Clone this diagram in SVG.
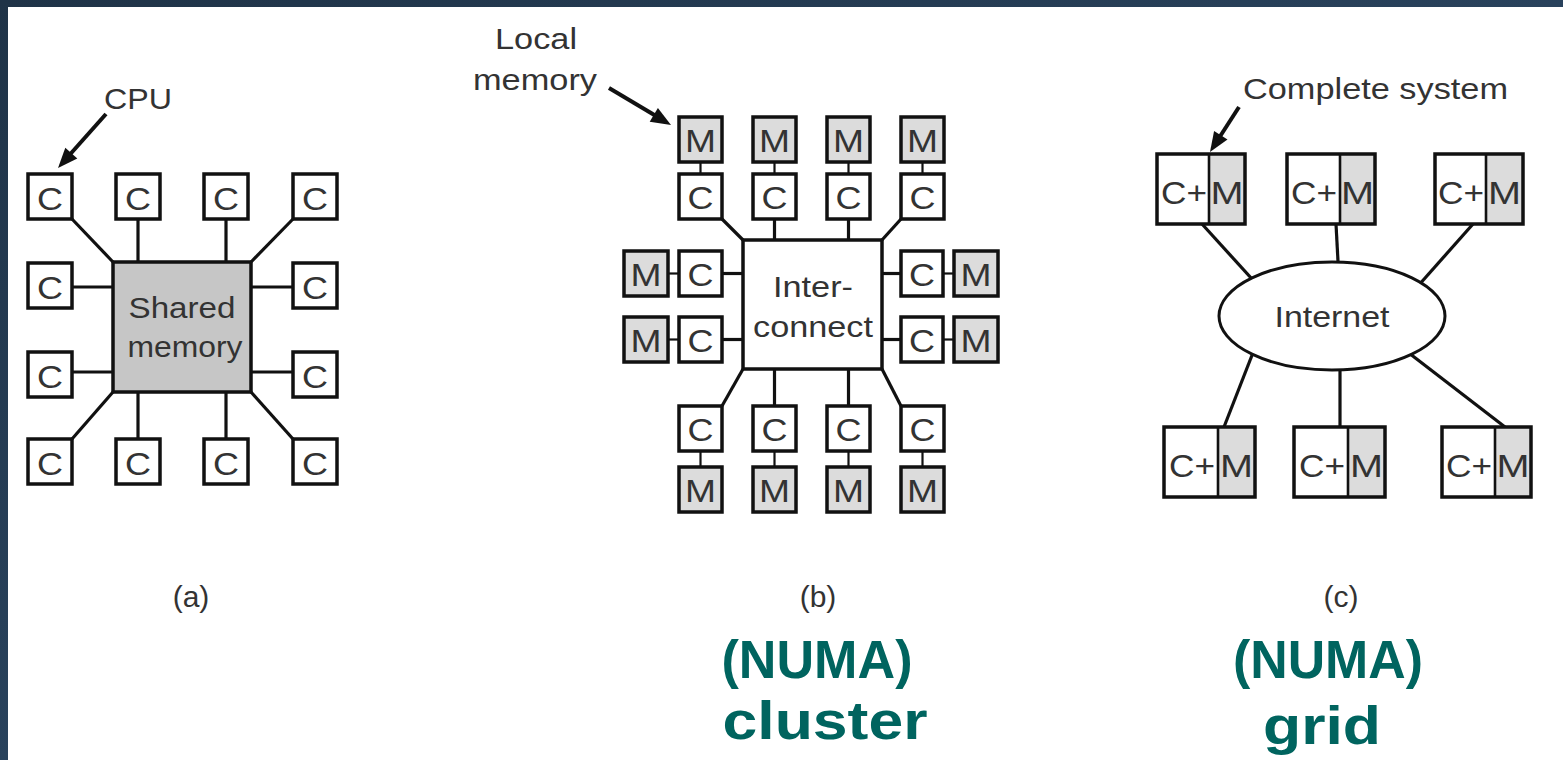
<svg xmlns="http://www.w3.org/2000/svg" width="1563" height="760" viewBox="0 0 1563 760">
  <defs>
    <linearGradient id="frame" x1="0" y1="0" x2="1" y2="1">
      <stop offset="0" stop-color="#1f3347"/>
      <stop offset="0.6" stop-color="#2b4560"/>
      <stop offset="1" stop-color="#223a52"/>
    </linearGradient>
  </defs>
  <style>
    .box { fill: #ffffff; stroke: #111111; stroke-width: 3.5; }
    .mem { fill: #dcdcdc; stroke: #111111; stroke-width: 3.5; }
    .shared { fill: #c6c6c6; stroke: #111111; stroke-width: 3.5; }
    .frame { fill: none; stroke: #111111; stroke-width: 3.5; }
    .div { stroke: #111111; stroke-width: 2.6; }
    .wire { stroke: #111111; stroke-width: 3.2; fill: none; }
    .thin { stroke-width: 2.2; }
    .arrow { stroke: #111111; stroke-width: 4; fill: none; }
    .head { fill: #111111; }
    .t { font-family: "Liberation Sans", Arial, Helvetica, sans-serif; fill: #333333; text-anchor: middle; font-size: 30px; }
    .L { font-size: 31px; }
    .big { font-family: "Liberation Sans", Arial, Helvetica, sans-serif; font-weight: bold; fill: #00645f; text-anchor: middle; font-size: 54px; }
  </style>

  <!-- slide frame and white page -->
  <rect x="0" y="0" width="1563" height="760" fill="url(#frame)"/>
  <rect x="8" y="7" width="1555" height="753" fill="#ffffff"/>

  <!-- connectors -->
  <g id="connectors">
    <!-- (a) CPUs to shared memory -->
    <line class="wire" x1="72" y1="219" x2="113" y2="262"/>
    <line class="wire" x1="138" y1="219" x2="138" y2="262"/>
    <line class="wire" x1="226" y1="219" x2="226" y2="262"/>
    <line class="wire" x1="293" y1="219" x2="251" y2="262"/>
    <line class="wire" x1="72" y1="287" x2="113" y2="287"/>
    <line class="wire" x1="72" y1="372" x2="113" y2="372"/>
    <line class="wire" x1="251" y1="287" x2="293" y2="287"/>
    <line class="wire" x1="251" y1="372" x2="293" y2="372"/>
    <line class="wire" x1="113" y1="392" x2="72" y2="439"/>
    <line class="wire" x1="138" y1="392" x2="138" y2="439"/>
    <line class="wire" x1="226" y1="392" x2="226" y2="439"/>
    <line class="wire" x1="251" y1="392" x2="293" y2="439"/>

    <!-- (b) CPU to interconnect -->
    <line class="wire" x1="722" y1="219" x2="743" y2="240"/>
    <line class="wire" x1="774.5" y1="219" x2="774.5" y2="240"/>
    <line class="wire" x1="848.5" y1="219" x2="848.5" y2="240"/>
    <line class="wire" x1="901" y1="219" x2="882" y2="240"/>
    <line class="wire" x1="722" y1="273.5" x2="743" y2="273.5"/>
    <line class="wire" x1="722" y1="339.5" x2="743" y2="339.5"/>
    <line class="wire" x1="882" y1="273.5" x2="901" y2="273.5"/>
    <line class="wire" x1="882" y1="339.5" x2="901" y2="339.5"/>
    <line class="wire" x1="743" y1="369" x2="722" y2="406"/>
    <line class="wire" x1="774.5" y1="369" x2="774.5" y2="406"/>
    <line class="wire" x1="848.5" y1="369" x2="848.5" y2="406"/>
    <line class="wire" x1="882" y1="369" x2="901" y2="406"/>
    <!-- (b) CPU to local memory -->
    <line class="wire thin" x1="700.5" y1="162" x2="700.5" y2="174"/>
    <line class="wire thin" x1="774.5" y1="162" x2="774.5" y2="174"/>
    <line class="wire thin" x1="848.5" y1="162" x2="848.5" y2="174"/>
    <line class="wire thin" x1="922.5" y1="162" x2="922.5" y2="174"/>
    <line class="wire thin" x1="668" y1="273.5" x2="679" y2="273.5"/>
    <line class="wire thin" x1="668" y1="339.5" x2="679" y2="339.5"/>
    <line class="wire thin" x1="943" y1="273.5" x2="954" y2="273.5"/>
    <line class="wire thin" x1="943" y1="339.5" x2="954" y2="339.5"/>
    <line class="wire thin" x1="700.5" y1="451" x2="700.5" y2="467"/>
    <line class="wire thin" x1="774.5" y1="451" x2="774.5" y2="467"/>
    <line class="wire thin" x1="848.5" y1="451" x2="848.5" y2="467"/>
    <line class="wire thin" x1="922.5" y1="451" x2="922.5" y2="467"/>

    <!-- (c) systems to the Internet -->
    <line class="wire" x1="1202" y1="224" x2="1262" y2="290"/>
    <line class="wire" x1="1336" y1="224" x2="1339" y2="280"/>
    <line class="wire" x1="1473" y1="224" x2="1410" y2="295"/>
    <line class="wire" x1="1224" y1="427" x2="1256" y2="345"/>
    <line class="wire" x1="1340" y1="427" x2="1340" y2="350"/>
    <line class="wire" x1="1505" y1="427" x2="1405" y2="350"/>

    <!-- callout arrows -->
    <line class="arrow" x1="106" y1="114" x2="68.6" y2="156"/>
    <polygon class="head" points="58,168 77.3,158.4 65.3,147.7"/>
    <line class="arrow" x1="609" y1="88" x2="657.3" y2="116.8"/>
    <polygon class="head" points="671,125 649.7,121.7 657.9,107.9"/>
    <line class="arrow" x1="1239" y1="107" x2="1218.7" y2="138.5"/>
    <polygon class="head" points="1210,152 1227.5,139.5 1214.1,130.9"/>
  </g>

  <!-- (a) shared-memory multiprocessor -->
  <g id="shared-memory">
    <rect class="shared" x="113" y="262" width="138" height="130"/>
    <text class="t" x="182" y="318" font-size="30" textLength="107" lengthAdjust="spacingAndGlyphs">Shared</text>
    <text class="t" x="185" y="357" font-size="30" textLength="115" lengthAdjust="spacingAndGlyphs">memory</text>
  </g>
  <g id="cpu-a">
    <rect class="box" x="28" y="174" width="44" height="45"/><text class="t L" x="50" y="210" textLength="26" lengthAdjust="spacingAndGlyphs">C</text>
    <rect class="box" x="116" y="174" width="44" height="45"/><text class="t L" x="138" y="210" textLength="26" lengthAdjust="spacingAndGlyphs">C</text>
    <rect class="box" x="204" y="174" width="44" height="45"/><text class="t L" x="226" y="210" textLength="26" lengthAdjust="spacingAndGlyphs">C</text>
    <rect class="box" x="293" y="174" width="44" height="45"/><text class="t L" x="315" y="210" textLength="26" lengthAdjust="spacingAndGlyphs">C</text>
    <rect class="box" x="28" y="263" width="44" height="45"/><text class="t L" x="50" y="299" textLength="26" lengthAdjust="spacingAndGlyphs">C</text>
    <rect class="box" x="293" y="263" width="44" height="45"/><text class="t L" x="315" y="299" textLength="26" lengthAdjust="spacingAndGlyphs">C</text>
    <rect class="box" x="28" y="352" width="44" height="45"/><text class="t L" x="50" y="388" textLength="26" lengthAdjust="spacingAndGlyphs">C</text>
    <rect class="box" x="293" y="352" width="44" height="45"/><text class="t L" x="315" y="388" textLength="26" lengthAdjust="spacingAndGlyphs">C</text>
    <rect class="box" x="28" y="439" width="44" height="45"/><text class="t L" x="50" y="475" textLength="26" lengthAdjust="spacingAndGlyphs">C</text>
    <rect class="box" x="116" y="439" width="44" height="45"/><text class="t L" x="138" y="475" textLength="26" lengthAdjust="spacingAndGlyphs">C</text>
    <rect class="box" x="204" y="439" width="44" height="45"/><text class="t L" x="226" y="475" textLength="26" lengthAdjust="spacingAndGlyphs">C</text>
    <rect class="box" x="293" y="439" width="44" height="45"/><text class="t L" x="315" y="475" textLength="26" lengthAdjust="spacingAndGlyphs">C</text>
  </g>
  <g id="label-cpu">
    <text class="t" x="138" y="109" font-size="31" textLength="68" lengthAdjust="spacingAndGlyphs">CPU</text>
  </g>
  <g id="caption-a">
    <text class="t" x="191" y="607" font-size="32">(a)</text>
  </g>

  <!-- (b) NUMA cluster -->
  <g id="interconnect">
    <rect class="box" x="743" y="240" width="139" height="129"/>
    <text class="t" x="813" y="297" textLength="80" lengthAdjust="spacingAndGlyphs">Inter-</text>
    <text class="t" x="813" y="337" textLength="120" lengthAdjust="spacingAndGlyphs">connect</text>
  </g>
  <g id="nodes-b-top">
    <rect class="mem" x="679" y="117" width="43" height="45"/><text class="t L" x="700.5" y="152" textLength="31" lengthAdjust="spacingAndGlyphs">M</text>
    <rect class="mem" x="753" y="117" width="43" height="45"/><text class="t L" x="774.5" y="152" textLength="31" lengthAdjust="spacingAndGlyphs">M</text>
    <rect class="mem" x="827" y="117" width="43" height="45"/><text class="t L" x="848.5" y="152" textLength="31" lengthAdjust="spacingAndGlyphs">M</text>
    <rect class="mem" x="901" y="117" width="43" height="45"/><text class="t L" x="922.5" y="152" textLength="31" lengthAdjust="spacingAndGlyphs">M</text>
    <rect class="box" x="679" y="174" width="43" height="45"/><text class="t L" x="700.5" y="209" textLength="26" lengthAdjust="spacingAndGlyphs">C</text>
    <rect class="box" x="753" y="174" width="43" height="45"/><text class="t L" x="774.5" y="209" textLength="26" lengthAdjust="spacingAndGlyphs">C</text>
    <rect class="box" x="827" y="174" width="43" height="45"/><text class="t L" x="848.5" y="209" textLength="26" lengthAdjust="spacingAndGlyphs">C</text>
    <rect class="box" x="901" y="174" width="43" height="45"/><text class="t L" x="922.5" y="209" textLength="26" lengthAdjust="spacingAndGlyphs">C</text>
  </g>
  <g id="nodes-b-left">
    <rect class="mem" x="624" y="251" width="44" height="45"/><text class="t L" x="646" y="286" textLength="31" lengthAdjust="spacingAndGlyphs">M</text>
    <rect class="box" x="679" y="251" width="43" height="45"/><text class="t L" x="700.5" y="286" textLength="26" lengthAdjust="spacingAndGlyphs">C</text>
    <rect class="mem" x="624" y="317" width="44" height="45"/><text class="t L" x="646" y="352" textLength="31" lengthAdjust="spacingAndGlyphs">M</text>
    <rect class="box" x="679" y="317" width="43" height="45"/><text class="t L" x="700.5" y="352" textLength="26" lengthAdjust="spacingAndGlyphs">C</text>
  </g>
  <g id="nodes-b-right">
    <rect class="box" x="901" y="251" width="42" height="45"/><text class="t L" x="922" y="286" textLength="26" lengthAdjust="spacingAndGlyphs">C</text>
    <rect class="mem" x="954" y="251" width="44" height="45"/><text class="t L" x="976" y="286" textLength="31" lengthAdjust="spacingAndGlyphs">M</text>
    <rect class="box" x="901" y="317" width="42" height="45"/><text class="t L" x="922" y="352" textLength="26" lengthAdjust="spacingAndGlyphs">C</text>
    <rect class="mem" x="954" y="317" width="44" height="45"/><text class="t L" x="976" y="352" textLength="31" lengthAdjust="spacingAndGlyphs">M</text>
  </g>
  <g id="nodes-b-bottom">
    <rect class="box" x="679" y="406" width="43" height="45"/><text class="t L" x="700.5" y="441" textLength="26" lengthAdjust="spacingAndGlyphs">C</text>
    <rect class="box" x="753" y="406" width="43" height="45"/><text class="t L" x="774.5" y="441" textLength="26" lengthAdjust="spacingAndGlyphs">C</text>
    <rect class="box" x="827" y="406" width="43" height="45"/><text class="t L" x="848.5" y="441" textLength="26" lengthAdjust="spacingAndGlyphs">C</text>
    <rect class="box" x="901" y="406" width="43" height="45"/><text class="t L" x="922.5" y="441" textLength="26" lengthAdjust="spacingAndGlyphs">C</text>
    <rect class="mem" x="679" y="467" width="43" height="45"/><text class="t L" x="700.5" y="502" textLength="31" lengthAdjust="spacingAndGlyphs">M</text>
    <rect class="mem" x="753" y="467" width="43" height="45"/><text class="t L" x="774.5" y="502" textLength="31" lengthAdjust="spacingAndGlyphs">M</text>
    <rect class="mem" x="827" y="467" width="43" height="45"/><text class="t L" x="848.5" y="502" textLength="31" lengthAdjust="spacingAndGlyphs">M</text>
    <rect class="mem" x="901" y="467" width="43" height="45"/><text class="t L" x="922.5" y="502" textLength="31" lengthAdjust="spacingAndGlyphs">M</text>
  </g>
  <g id="label-local-memory">
    <text class="t" x="536" y="49" font-size="29" textLength="82" lengthAdjust="spacingAndGlyphs">Local</text>
    <text class="t" x="535" y="90" font-size="29" textLength="124" lengthAdjust="spacingAndGlyphs">memory</text>
  </g>
  <g id="caption-b">
    <text class="t" x="818" y="607" font-size="32">(b)</text>
    <text class="big" x="817" y="678" textLength="191" lengthAdjust="spacingAndGlyphs">(NUMA)</text>
    <text class="big" x="825" y="739" textLength="205" lengthAdjust="spacingAndGlyphs">cluster</text>
  </g>

  <!-- (c) NUMA grid -->
  <g id="internet">
    <ellipse cx="1332" cy="316" rx="113" ry="54" fill="#ffffff" stroke="#111111" stroke-width="3"/>
    <text class="t" x="1332" y="327" textLength="115" lengthAdjust="spacingAndGlyphs">Internet</text>
  </g>
  <g id="systems-top">
    <rect x="1209" y="154" width="36" height="70" fill="#dcdcdc"/>
    <rect x="1157" y="154" width="52" height="70" fill="#ffffff"/>
    <rect class="frame" x="1157" y="154" width="88" height="70"/>
    <line class="div" x1="1209" y1="154" x2="1209" y2="224"/>
    <text class="t L" x="1184" y="204" textLength="46" lengthAdjust="spacingAndGlyphs">C+</text>
    <text class="t L" x="1227" y="204" textLength="33" lengthAdjust="spacingAndGlyphs">M</text>

    <rect x="1340" y="154" width="35" height="70" fill="#dcdcdc"/>
    <rect x="1287" y="154" width="53" height="70" fill="#ffffff"/>
    <rect class="frame" x="1287" y="154" width="88" height="70"/>
    <line class="div" x1="1340" y1="154" x2="1340" y2="224"/>
    <text class="t L" x="1314" y="204" textLength="46" lengthAdjust="spacingAndGlyphs">C+</text>
    <text class="t L" x="1357.5" y="204" textLength="33" lengthAdjust="spacingAndGlyphs">M</text>

    <rect x="1486" y="154" width="37" height="70" fill="#dcdcdc"/>
    <rect x="1435" y="154" width="51" height="70" fill="#ffffff"/>
    <rect class="frame" x="1435" y="154" width="88" height="70"/>
    <line class="div" x1="1486" y1="154" x2="1486" y2="224"/>
    <text class="t L" x="1461" y="204" textLength="46" lengthAdjust="spacingAndGlyphs">C+</text>
    <text class="t L" x="1504.5" y="204" textLength="33" lengthAdjust="spacingAndGlyphs">M</text>
  </g>
  <g id="systems-bottom">
    <rect x="1218" y="427" width="37" height="70" fill="#dcdcdc"/>
    <rect x="1164" y="427" width="54" height="70" fill="#ffffff"/>
    <rect class="frame" x="1164" y="427" width="91" height="70"/>
    <line class="div" x1="1218" y1="427" x2="1218" y2="497"/>
    <text class="t L" x="1192" y="477" textLength="46" lengthAdjust="spacingAndGlyphs">C+</text>
    <text class="t L" x="1236.5" y="477" textLength="33" lengthAdjust="spacingAndGlyphs">M</text>

    <rect x="1348" y="427" width="37" height="70" fill="#dcdcdc"/>
    <rect x="1294" y="427" width="54" height="70" fill="#ffffff"/>
    <rect class="frame" x="1294" y="427" width="91" height="70"/>
    <line class="div" x1="1348" y1="427" x2="1348" y2="497"/>
    <text class="t L" x="1322" y="477" textLength="46" lengthAdjust="spacingAndGlyphs">C+</text>
    <text class="t L" x="1366.5" y="477" textLength="33" lengthAdjust="spacingAndGlyphs">M</text>

    <rect x="1495" y="427" width="36" height="70" fill="#dcdcdc"/>
    <rect x="1442" y="427" width="53" height="70" fill="#ffffff"/>
    <rect class="frame" x="1442" y="427" width="89" height="70"/>
    <line class="div" x1="1495" y1="427" x2="1495" y2="497"/>
    <text class="t L" x="1469" y="477" textLength="46" lengthAdjust="spacingAndGlyphs">C+</text>
    <text class="t L" x="1513" y="477" textLength="33" lengthAdjust="spacingAndGlyphs">M</text>
  </g>
  <g id="label-complete-system">
    <text class="t" x="1375.5" y="99" textLength="265" lengthAdjust="spacingAndGlyphs">Complete system</text>
  </g>
  <g id="caption-c">
    <text class="t" x="1341" y="607" font-size="32">(c)</text>
    <text class="big" x="1328" y="678" textLength="190" lengthAdjust="spacingAndGlyphs">(NUMA)</text>
    <text class="big" x="1322" y="744" font-size="57" textLength="118" lengthAdjust="spacingAndGlyphs">grid</text>
  </g>
</svg>
